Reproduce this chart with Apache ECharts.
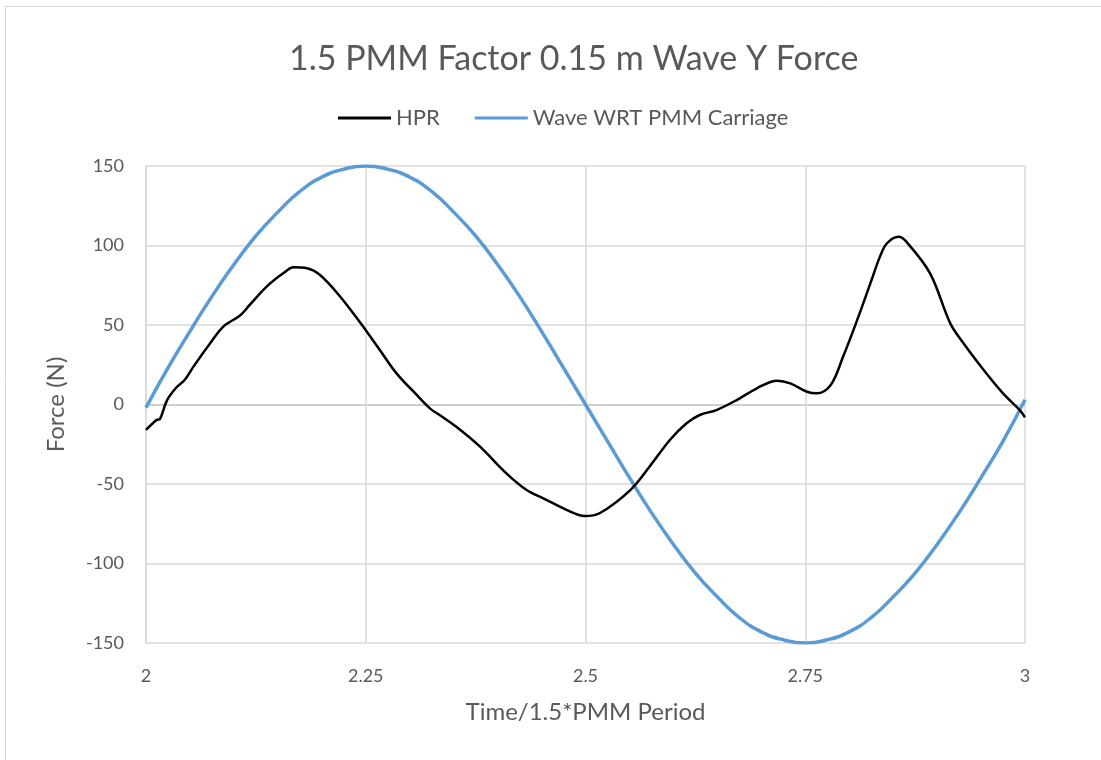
<!DOCTYPE html>
<html>
<head>
<meta charset="utf-8">
<script src="https://cdn.jsdelivr.net/npm/echarts@6/dist/echarts.min.js"></script>
<style>
  html, body { margin: 0; padding: 0; background: #fff; }
  #chart { width: 1101px; height: 760px; }
</style>
</head>
<body>
<div id="chart"></div>
<script>
// HPR measured force over one wave period
const hprTime = [2.000, 2.012, 2.016, 2.024, 2.035, 2.044, 2.054, 2.073, 2.088, 2.107,
  2.118, 2.137, 2.156, 2.168, 2.183, 2.198, 2.221, 2.243, 2.266, 2.285,
  2.308, 2.323, 2.334, 2.353, 2.380, 2.410, 2.433, 2.452, 2.479, 2.499,
  2.516, 2.551, 2.573, 2.596, 2.615, 2.630, 2.649, 2.672, 2.695, 2.718,
  2.733, 2.752, 2.763, 2.779, 2.793, 2.809, 2.824, 2.835, 2.843, 2.856,
  2.865, 2.892, 2.915, 2.930, 2.953, 2.975, 2.994, 3.000];
const hprForce = [-16, -9.7, -9, 2.8, 11, 15.4, 23.8, 38.5, 49, 56,
  62.6, 74, 82.5, 86.3, 85.7, 81.4, 67.8, 52, 34.3, 19.6,
  6, -2.4, -6.6, -14, -26.5, -43.3, -53.8, -59, -66.4, -70.1,
  -68.4, -53.8, -39, -22.3, -11.8, -6.6, -3.5, 2.8, 10.2, 15,
  13.3, 8, 7, 12.3, 30, 53, 76, 93, 101.4, 105.5,
  102.4, 82.5, 51, 38.5, 21.7, 7, -3.5, -8];

// Wave elevation relative to the PMM carriage, sampled every 0.025
const waveTime = [];
for (let k = 0; k <= 40; k++) waveTime.push(+(2 + k * 0.025).toFixed(3));
const waveForce = [-2, 23, 46, 68, 88, 106, 121, 134, 143, 148,
  150, 148, 143, 134, 121, 106, 88, 68, 46, 23,
  0, -23, -46, -68, -88, -106, -121, -134, -143, -148,
  -150, -148, -143, -134, -121, -106, -88, -68, -46, -23, 3];

const xTicks = [2, 2.25, 2.5, 2.75, 3];
const yTicks = [-150, -100, -50, 0, 50, 100, 150];

const seriesNames = ['HPR', 'Wave WRT PMM Carriage'];
const titleText = '1.5 PMM Factor 0.15 m Wave Y Force';
const xName = 'Time/1.5*PMM Period';
const yName = 'Force (N)';

const FONT = 'Lato, "Open Sans", sans-serif';
const TEXT = '#595959';
const GRID = '#d9d9d9';

const zip = (a, b) => a.map((v, i) => [v, b[i]]);

const chart = echarts.init(document.getElementById('chart'), null, { renderer: 'canvas' });
chart.setOption({
  backgroundColor: '#ffffff',
  animation: false,
  graphic: [{
    type: 'rect',
    shape: { x: 5.5, y: 6.5, width: 1200, height: 900 },
    style: { fill: 'none', stroke: GRID, lineWidth: 1 },
    silent: true
  }],
  title: {
    text: titleText,
    left: 284,
    top: 37,
    textStyle: { fontFamily: FONT, fontSize: 34, fontWeight: 'normal', color: TEXT }
  },
  legend: {
    top: 102,
    left: 333,
    icon: 'rect',
    itemWidth: 53,
    itemHeight: 3,
    itemGap: 35,
    textStyle: { fontFamily: FONT, fontSize: 22, color: TEXT },
    data: seriesNames
  },
  grid: { left: 146, right: 76, top: 166, bottom: 117, containLabel: false },
  xAxis: {
    type: 'value',
    min: 2,
    max: 3,
    interval: 0.25,
    name: xName,
    nameLocation: 'middle',
    nameGap: 57,
    nameTextStyle: { fontFamily: FONT, fontSize: 24, color: TEXT },
    axisLine: { show: false, onZero: false },
    axisTick: { show: false },
    axisLabel: {
      margin: 24,
      fontFamily: FONT, fontSize: 18, color: TEXT,
      formatter: v => (xTicks.includes(+v.toFixed(2)) ? String(+v.toFixed(2)) : '')
    },
    splitLine: { show: true, lineStyle: { color: GRID, width: 1.5 } }
  },
  yAxis: {
    type: 'value',
    min: -150,
    max: 150,
    interval: 50,
    name: yName,
    nameLocation: 'middle',
    nameGap: 78,
    nameRotate: 90,
    nameTextStyle: { fontFamily: FONT, fontSize: 24, color: TEXT },
    axisLine: { show: true, lineStyle: { color: GRID, width: 1.5 } },
    axisTick: { show: false },
    axisLabel: {
      margin: 22,
      fontFamily: FONT, fontSize: 18, color: TEXT,
      formatter: v => (yTicks.includes(v) ? String(v) : '')
    },
    splitLine: {
      show: true,
      lineStyle: {
        color: yTicks.map(v => (v === 0 ? '#bfbfbf' : GRID)),
        width: 1.5
      }
    }
  },
  series: [
    {
      name: seriesNames[0],
      type: 'line',
      data: zip(hprTime, hprForce),
      smooth: 0.35,
      symbol: 'none',
      z: 3,
      lineStyle: { color: '#000000', width: 2.5 },
      itemStyle: { color: '#000000' }
    },
    {
      name: seriesNames[1],
      type: 'line',
      data: zip(waveTime, waveForce),
      smooth: true,
      symbol: 'none',
      z: 2,
      lineStyle: { color: '#5b9bd5', width: 3.5 },
      itemStyle: { color: '#5b9bd5' }
    }
  ]
});
</script>
</body>
</html>
